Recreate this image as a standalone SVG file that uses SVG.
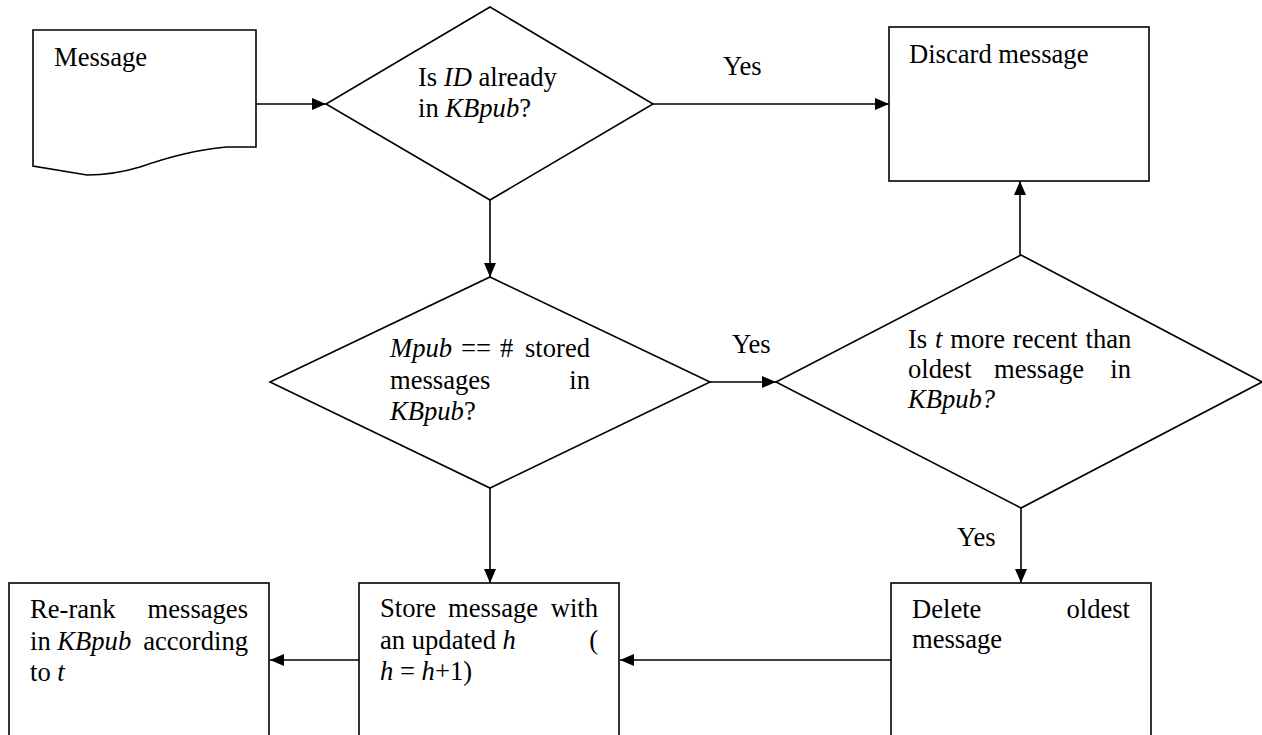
<svg xmlns="http://www.w3.org/2000/svg" width="1262" height="735" viewBox="0 0 1262 735">
<style>
.shape{fill:#fff;stroke:#000;stroke-width:1.6}
.t{font-family:"Liberation Serif","Times New Roman",serif;font-size:26.6px;fill:#000}
.i{font-style:italic}
.c{stroke:#000;stroke-width:1.6;fill:none;marker-end:url(#ah)}
</style>
<defs>
<marker id="ah" viewBox="0 0 14 12" refX="14" refY="6" markerWidth="14" markerHeight="12" markerUnits="userSpaceOnUse" orient="auto">
<path d="M0,0 L14,6 L0,12 Z" fill="#000"/>
</marker>
</defs>
<rect width="1262" height="735" fill="#fff"/>
<g id="connectors">
<line class="c" x1="256" y1="104" x2="326" y2="104"/>
<line class="c" x1="653" y1="104" x2="889" y2="104"/>
<line class="c" x1="490" y1="200" x2="490" y2="277"/>
<line class="c" x1="710" y1="382" x2="776" y2="382"/>
<line class="c" x1="1020" y1="255" x2="1020" y2="181"/>
<line class="c" x1="1021" y1="508" x2="1021" y2="583"/>
<line class="c" x1="490" y1="488" x2="490" y2="583"/>
<line class="c" x1="891" y1="660" x2="620" y2="660"/>
<line class="c" x1="359" y1="660" x2="270" y2="660"/>
<text class="t" x="723" y="75">Yes</text>
<text class="t" x="732" y="353">Yes</text>
<text class="t" x="957" y="546">Yes</text>
</g>
<g id="message">
<path class="shape" d="M33,30 H256 V147 H227 C190,150 160,160 140,167 C120,173 105,175 87,175 L33,166 Z"/>
<text class="t" x="54" y="66">Message</text>
</g>
<g id="decision-id">
<polygon class="shape" points="490,7 653,104 490,200 326,104"/>
<text class="t" x="418" y="86">Is <tspan class="i">ID</tspan> already</text>
<text class="t" x="418" y="117">in <tspan class="i">KBpub</tspan>?</text>
</g>
<g id="discard">
<rect class="shape" x="889" y="27" width="260" height="154"/>
<text class="t" x="909" y="63">Discard message</text>
</g>
<g id="decision-full">
<polygon class="shape" points="490,277 710,382 490,488 270,382"/>
<text class="t" x="390" y="357"><tspan class="i">Mpub</tspan></text>
<text class="t" x="461" y="357">==</text>
<text class="t" x="500" y="357">#</text>
<text class="t" x="590" y="357" text-anchor="end">stored</text>
<text class="t" x="390" y="389">messages</text>
<text class="t" x="590" y="389" text-anchor="end">in</text>
<text class="t" x="390" y="420"><tspan class="i">KBpub</tspan>?</text>
</g>
<g id="decision-recent">
<polygon class="shape" points="1021,255 1262,382 1021,508 776,382"/>
<text class="t" x="908" y="348" word-spacing="1.2">Is <tspan class="i">t</tspan> more recent than</text>
<text class="t" x="908" y="378">oldest</text>
<text class="t" x="1039" y="378" text-anchor="middle">message</text>
<text class="t" x="1131" y="378" text-anchor="end">in</text>
<text class="t i" x="908" y="408">KBpub?</text>
</g>
<g id="rerank">
<rect class="shape" x="9" y="583" width="260" height="160"/>
<text class="t" x="30" y="618">Re-rank</text>
<text class="t" x="248" y="618" text-anchor="end">messages</text>
<text class="t" x="30" y="650">in <tspan class="i">KBpub</tspan></text>
<text class="t" x="248" y="650" text-anchor="end">according</text>
<text class="t" x="30" y="681">to <tspan class="i">t</tspan></text>
</g>
<g id="store">
<rect class="shape" x="359" y="583" width="260" height="160"/>
<text class="t" x="380" y="617">Store</text>
<text class="t" x="448" y="617">message</text>
<text class="t" x="598" y="617" text-anchor="end">with</text>
<text class="t" x="380" y="649">an updated <tspan class="i">h</tspan></text>
<text class="t" x="598" y="649" text-anchor="end">(</text>
<text class="t" x="380" y="680"><tspan class="i">h</tspan> = <tspan class="i">h</tspan>+1)</text>
</g>
<g id="delete">
<rect class="shape" x="891" y="583" width="260" height="160"/>
<text class="t" x="912" y="618">Delete</text>
<text class="t" x="1130" y="618" text-anchor="end">oldest</text>
<text class="t" x="912" y="648">message</text>
</g>
</svg>
